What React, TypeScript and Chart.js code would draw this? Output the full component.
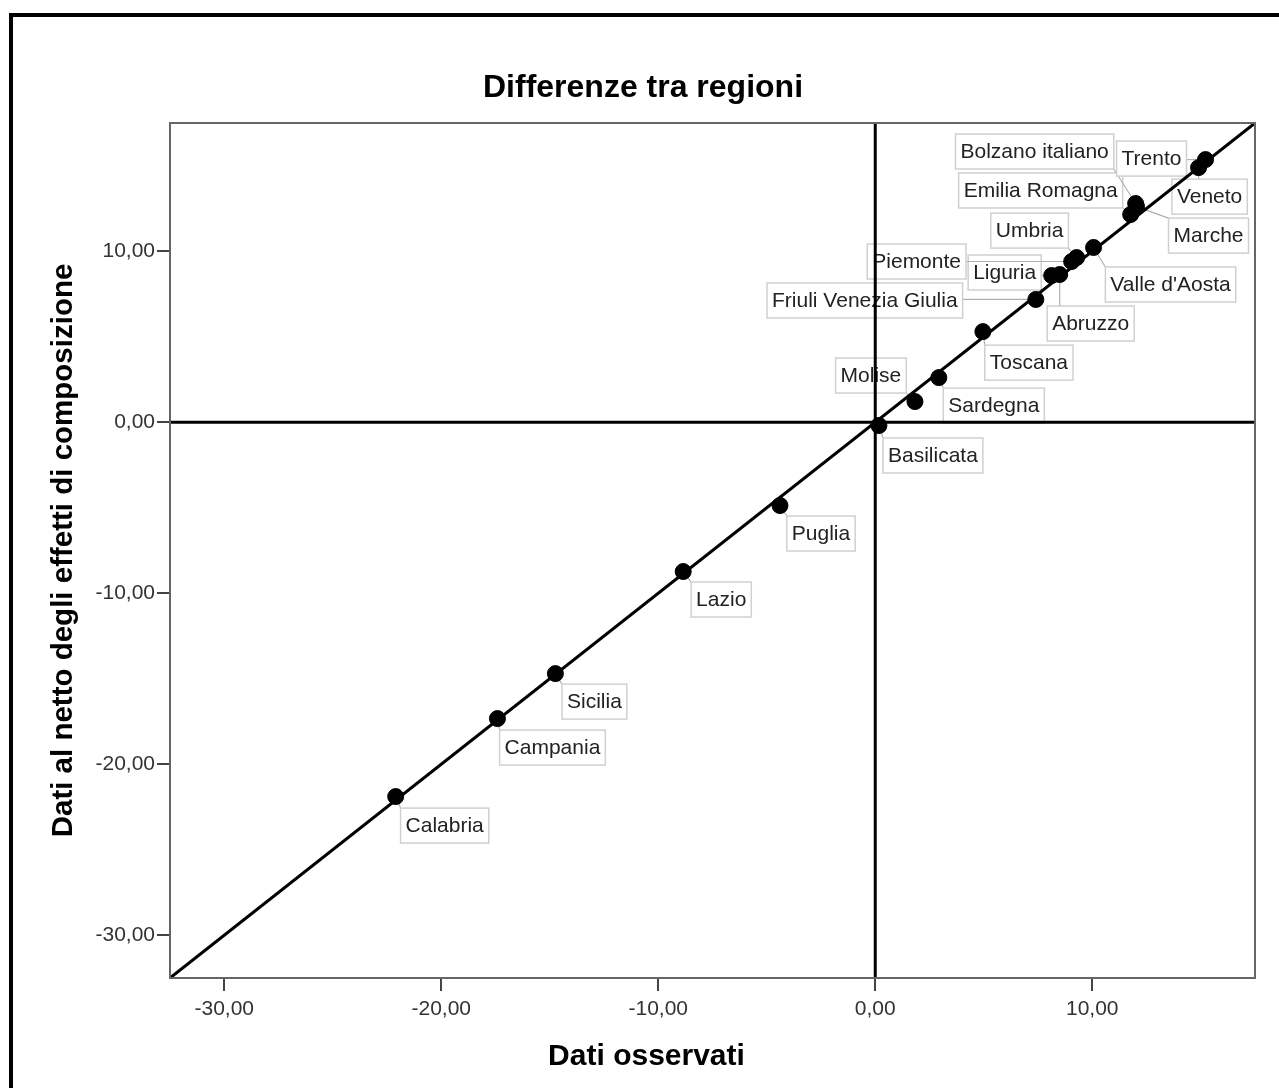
import { useEffect, useRef } from "react";
import { Chart, registerables } from "chart.js";

Chart.register(...registerables);

const FONT = '"Liberation Sans", Arial, sans-serif';

// Regions (labels)
const regions = [
  "Calabria",
  "Campania",
  "Sicilia",
  "Lazio",
  "Puglia",
  "Basilicata",
  "Molise",
  "Sardegna",
  "Toscana",
  "Friuli Venezia Giulia",
  "Abruzzo",
  "Liguria",
  "Piemonte",
  "Umbria",
  "Valle d'Aosta",
  "Emilia Romagna",
  "Marche",
  "Bolzano italiano",
  "Trento",
  "Veneto",
];

// "Dati osservati" (x)
const observed = [
  -22.1, -17.41, -14.74, -8.85, -4.39, 0.17, 1.83, 2.93, 4.96, 7.4, 8.5, 8.13,
  9.05, 9.28, 10.06, 11.77, 12.04, 12.0, 15.22, 14.9,
];

// "Dati al netto degli effetti di composizione" (y)
const netOfComposition = [
  -21.89, -17.33, -14.7, -8.73, -4.87, -0.19, 1.21, 2.61, 5.3, 7.18, 8.64, 8.58,
  9.4, 9.63, 10.22, 12.15, 12.61, 12.79, 15.36, 14.89,
];

// label box centre offsets from the marker (px) – layout only
const labelOffsets: [number, number][] = [
  [49, 29],
  [55, 29],
  [39, 28],
  [38, 28],
  [41, 28],
  [54, 30],
  [-44, -26],
  [55, 28],
  [46, 31],
  [-171, 1],
  [31, 49],
  [-47, -3],
  [-155, 0],
  [-47, -27],
  [77, 37],
  [-90, -24],
  [72, 29],
  [-101, -52],
  [-54, -1],
  [11, 29],
];

const axisMin = -32.5;
const axisMax = 17.5;
const xTickValues = [-30, -20, -10, 0, 10];
const yTickValues = [-30, -20, -10, 0, 10];

const chartTitle = "Differenze tra regioni";
const xTitle = "Dati osservati";
const yTitle = "Dati al netto degli effetti di composizione";

const fmt = (v: number) => v.toFixed(2).replace(".", ",");

const labelPlugin = {
  id: "regionLabels",
  beforeDatasetsDraw(chart: any) {
    const ctx = chart.ctx as CanvasRenderingContext2D;
    const xs = chart.scales.x;
    const ys = chart.scales.y;
    ctx.save();
    ctx.font = `21px ${FONT}`;
    regions.forEach((name, i) => {
      const px = xs.getPixelForValue(observed[i]);
      const py = ys.getPixelForValue(netOfComposition[i]);
      const [dx, dy] = labelOffsets[i];
      const w = ctx.measureText(name).width + 10;
      const h = 35;
      const cx = px + dx;
      const cy = py + dy;
      const l = cx - w / 2;
      const t = cy - h / 2;
      const nx = Math.max(l, Math.min(px, l + w));
      const ny = Math.max(t, Math.min(py, t + h));
      ctx.strokeStyle = "#b0b0b0";
      ctx.lineWidth = 1.2;
      ctx.beginPath();
      ctx.moveTo(px, py);
      ctx.lineTo(nx, ny);
      ctx.stroke();
      ctx.fillStyle = "#ffffff";
      ctx.fillRect(l, t, w, h);
      ctx.strokeStyle = "#d0d0d0";
      ctx.lineWidth = 1.5;
      ctx.strokeRect(l, t, w, h);
      ctx.fillStyle = "#222222";
      ctx.textAlign = "center";
      ctx.textBaseline = "middle";
      ctx.fillText(name, cx, cy + 1);
    });
    ctx.restore();
  },
};

const framePlugin = {
  id: "plotFrame",
  afterDatasetsDraw(chart: any) {
    const { ctx, chartArea } = chart;
    ctx.save();
    ctx.strokeStyle = "#666666";
    ctx.lineWidth = 2;
    ctx.strokeRect(
      chartArea.left,
      chartArea.top,
      chartArea.right - chartArea.left,
      chartArea.bottom - chartArea.top
    );
    ctx.restore();
  },
  afterDraw(chart: any) {
    const ctx = chart.ctx as CanvasRenderingContext2D;
    const mid = chart.width / 2;
    ctx.save();
    ctx.fillStyle = "#000";
    ctx.textAlign = "center";
    ctx.textBaseline = "alphabetic";
    ctx.font = `bold 32px ${FONT}`;
    ctx.fillText(chartTitle, mid + 3.5, 97);
    ctx.font = `bold 30px ${FONT}`;
    ctx.fillText(xTitle, mid + 7, 1065);
    ctx.restore();
  },
};

export default function App() {
  const ref = useRef<HTMLCanvasElement | null>(null);

  useEffect(() => {
    if (!ref.current) return;
    const points = observed.map((x, i) => ({ x, y: netOfComposition[i] }));
    const diagonal = [
      { x: axisMin, y: axisMin },
      { x: axisMax, y: axisMax },
    ];
    const vertical = [
      { x: 0, y: axisMin },
      { x: 0, y: axisMax },
    ];
    const horizontal = [
      { x: axisMin, y: 0 },
      { x: axisMax, y: 0 },
    ];
    const lineStyle = {
      type: "line" as const,
      showLine: true,
      pointRadius: 0,
      borderColor: "#000",
      borderWidth: 3,
      fill: false,
      order: 2,
    };
    const chart = new Chart(ref.current, {
      type: "scatter",
      data: {
        datasets: [
          {
            label: "Regioni",
            data: points,
            pointRadius: 8,
            pointHoverRadius: 8,
            backgroundColor: "#000",
            borderColor: "#000",
            borderWidth: 1,
            order: 1,
          },
          { ...lineStyle, label: "diag", data: diagonal },
          { ...lineStyle, label: "x0", data: vertical },
          { ...lineStyle, label: "y0", data: horizontal },
        ] as any,
      },
      options: {
        animation: false,
        responsive: true,
        maintainAspectRatio: false,
        layout: { padding: { left: 0, right: 24, top: 123, bottom: 0 } },
        plugins: {
          legend: { display: false },
          tooltip: { enabled: false },
          title: { display: false },
        },
        scales: {
          x: {
            type: "linear",
            min: axisMin,
            max: axisMax,
            afterBuildTicks: (s: any) => {
              s.ticks = xTickValues.map((v) => ({ value: v }));
            },
            afterFit: (s: any) => {
              s.height = 110;
            },
            ticks: {
              callback: (v: any) => fmt(Number(v)),
              color: "#333",
              font: { family: FONT, size: 21 },
              padding: 6,
              maxRotation: 0,
            },
            grid: {
              display: true,
              drawOnChartArea: false,
              drawTicks: true,
              tickLength: 13,
              color: "#444",
              lineWidth: 2,
            },
            border: { display: false },
            title: { display: false },
          },
          y: {
            type: "linear",
            min: axisMin,
            max: axisMax,
            afterBuildTicks: (s: any) => {
              s.ticks = yTickValues.map((v) => ({ value: v }));
            },
            afterFit: (s: any) => {
              s.width = 170;
            },
            ticks: {
              callback: (v: any) => fmt(Number(v)),
              color: "#333",
              font: { family: FONT, size: 21 },
              padding: 2,
            },
            grid: {
              display: true,
              drawOnChartArea: false,
              drawTicks: true,
              tickLength: 13,
              color: "#444",
              lineWidth: 2,
            },
            border: { display: false },
            title: {
              display: true,
              text: yTitle,
              color: "#000",
              font: { family: FONT, size: 29.5, weight: "bold" },
              padding: { top: 46, bottom: 0 },
            },
          },
        },
      },
      plugins: [labelPlugin, framePlugin],
    });
    return () => chart.destroy();
  }, []);

  return (
    <div
      style={{
        position: "fixed",
        left: 0,
        top: 0,
        width: 1279,
        height: 1088,
        background: "#fff",
        overflow: "hidden",
      }}
    >
      <canvas ref={ref} />
      <div
        style={{
          position: "absolute",
          left: 9,
          top: 13,
          width: 1300,
          height: 1100,
          borderLeft: "4px solid #000",
          borderTop: "4px solid #000",
          pointerEvents: "none",
        }}
      />
    </div>
  );
}
